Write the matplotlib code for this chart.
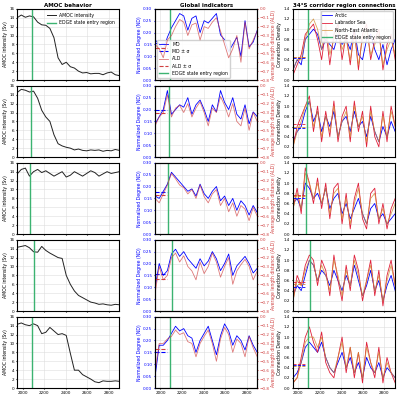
import matplotlib
matplotlib.use('Agg')
import matplotlib.pyplot as plt
import numpy as np

years = list(range(1950, 2901, 38))  # 26 points
green = [2090, 2080, 2070, 2110, 2085]

amoc = [
 [14,14.6,14.1,14.4,14.2,13,12.4,12.3,11.6,9.5,5,3.5,4,3,2.7,2,1.6,1.7,1.4,1.5,1.5,1.2,1.6,1.8,1.2,1.0],
 [14.5,15.2,15,14.6,14.8,13.2,10.5,9,8,5,3,2.5,2.2,2,1.6,1.8,1.5,1.4,1.6,1.5,1.6,1.3,1.5,1.4,1.7,1.5],
 [13.5,14.5,14.8,13,14,14.5,13.8,14.2,13.6,13,13.5,14,12.8,13.2,14,13.5,13,13.6,14.2,13.8,13,13.5,14,13.6,13.8,14],
 [14.3,14.5,14.7,14.2,13.3,13.2,14.5,13.6,13,12.5,12,11.8,8,6,4.5,3.5,3,2.5,2,1.8,1.5,1.6,1.4,1.3,1.5,1.4],
 [14.3,14.6,14.2,14,14.4,14,12.2,12.5,13.6,12.8,12,12.2,11.8,7.8,4,4,3,2.5,2,1.4,1.2,1.6,1.5,1.5,1.6,1.5],
]
md = [
 [0.17,0.15,0.13,0.18,0.22,0.25,0.28,0.27,0.21,0.26,0.27,0.20,0.25,0.24,0.26,0.28,0.19,0.17,0.12,0.15,0.18,0.10,0.25,0.14,0.16,0.21],
 [0.14,0.17,0.20,0.28,0.18,0.20,0.22,0.21,0.25,0.18,0.22,0.24,0.20,0.15,0.22,0.19,0.28,0.23,0.20,0.25,0.18,0.16,0.22,0.14,0.19,0.17],
 [0.16,0.15,0.18,0.21,0.26,0.24,0.22,0.20,0.18,0.19,0.16,0.21,0.17,0.15,0.18,0.20,0.14,0.16,0.12,0.15,0.10,0.14,0.12,0.08,0.12,0.09],
 [0.10,0.20,0.15,0.17,0.24,0.26,0.23,0.25,0.22,0.20,0.18,0.22,0.19,0.21,0.25,0.22,0.17,0.20,0.24,0.15,0.19,0.21,0.23,0.20,0.16,0.18],
 [0.05,0.18,0.18,0.20,0.23,0.26,0.24,0.25,0.22,0.21,0.15,0.20,0.23,0.26,0.20,0.14,0.22,0.27,0.24,0.18,0.22,0.20,0.16,0.22,0.18,0.15],
]
ald = [
 [-0.40,-0.45,-0.55,-0.35,-0.30,-0.20,-0.12,-0.15,-0.30,-0.18,-0.16,-0.35,-0.20,-0.22,-0.15,-0.10,-0.25,-0.40,-0.55,-0.45,-0.30,-0.60,-0.15,-0.45,-0.35,-0.25],
 [-0.45,-0.35,-0.30,-0.10,-0.35,-0.25,-0.22,-0.30,-0.20,-0.35,-0.25,-0.18,-0.30,-0.45,-0.25,-0.30,-0.12,-0.22,-0.35,-0.20,-0.40,-0.45,-0.25,-0.50,-0.30,-0.40],
 [-0.40,-0.45,-0.35,-0.25,-0.12,-0.18,-0.25,-0.28,-0.35,-0.30,-0.40,-0.25,-0.38,-0.45,-0.35,-0.30,-0.48,-0.40,-0.55,-0.45,-0.60,-0.48,-0.52,-0.65,-0.50,-0.60],
 [-0.60,-0.30,-0.45,-0.40,-0.20,-0.15,-0.25,-0.18,-0.30,-0.35,-0.45,-0.25,-0.38,-0.30,-0.15,-0.25,-0.42,-0.30,-0.20,-0.50,-0.35,-0.28,-0.22,-0.30,-0.45,-0.35],
 [-0.60,-0.30,-0.30,-0.25,-0.22,-0.15,-0.20,-0.18,-0.28,-0.30,-0.45,-0.30,-0.22,-0.15,-0.30,-0.50,-0.25,-0.12,-0.20,-0.40,-0.25,-0.30,-0.45,-0.22,-0.35,-0.45],
]
arctic = [
 [0.2,0.4,0.3,0.8,0.9,1.0,0.9,0.6,0.8,0.7,0.6,0.9,0.7,0.8,0.6,1.0,0.5,0.4,0.8,0.9,0.6,0.4,0.7,0.3,0.6,0.8],
 [0.3,0.5,0.6,0.9,1.1,0.7,0.9,0.5,0.8,0.6,0.9,0.4,0.7,0.8,0.5,0.9,0.6,0.7,0.4,0.8,0.5,0.3,0.6,0.4,0.7,0.5],
 [0.6,0.7,0.5,1.0,0.9,0.7,0.8,0.6,0.9,0.5,0.7,0.8,0.4,0.6,0.3,0.5,0.7,0.4,0.2,0.5,0.6,0.3,0.4,0.2,0.3,0.4],
 [0.3,0.5,0.4,0.7,1.0,0.9,0.6,0.8,0.7,0.5,0.8,0.6,0.4,0.7,0.5,0.9,0.6,0.3,0.5,0.8,0.4,0.6,0.2,0.5,0.7,0.4],
 [0.2,0.3,0.5,0.8,0.9,0.8,0.7,0.9,0.6,0.4,0.3,0.5,0.7,0.4,0.6,0.3,0.5,0.2,0.6,0.4,0.3,0.5,0.2,0.4,0.3,0.2],
]
labsea = [
 [0.1,0.3,0.5,0.9,1.0,1.1,0.8,0.4,1.0,0.3,0.9,1.1,0.4,0.9,0.3,1.0,0.2,0.9,1.1,0.4,0.8,1.0,0.2,0.7,0.9,0.4],
 [0.2,0.6,0.8,1.0,1.2,0.5,1.0,0.3,0.9,0.4,1.1,0.3,0.8,1.0,0.3,1.1,0.5,0.9,0.2,1.0,0.4,0.2,0.9,0.3,1.0,0.6],
 [0.5,0.9,0.4,1.3,1.0,0.6,1.1,0.5,1.0,0.3,0.9,1.0,0.2,0.8,0.1,0.7,1.0,0.3,0.1,0.8,0.9,0.2,0.6,0.1,0.5,0.7],
 [0.2,0.7,0.5,0.9,1.1,1.0,0.5,1.0,0.8,0.3,1.1,0.6,0.2,0.9,0.4,1.1,0.8,0.2,0.6,1.0,0.3,0.8,0.1,0.7,1.0,0.5],
 [0.1,0.2,0.6,1.0,1.2,0.9,0.7,1.1,0.5,0.3,0.2,0.6,1.0,0.3,0.8,0.2,0.7,0.1,0.9,0.5,0.2,0.8,0.1,0.6,0.3,0.1],
]
nea = [
 [0.2,0.4,0.4,0.8,1.1,1.2,1.0,0.6,1.1,0.5,0.8,1.0,0.6,0.8,0.4,0.9,0.3,0.8,1.0,0.5,0.7,0.9,0.3,0.6,0.8,0.5],
 [0.2,0.5,0.7,1.0,1.1,0.6,0.9,0.4,0.8,0.5,1.0,0.4,0.7,0.9,0.4,1.0,0.6,0.8,0.3,0.9,0.5,0.3,0.8,0.4,0.9,0.6],
 [0.5,0.8,0.5,1.2,1.0,0.7,1.0,0.6,0.9,0.4,0.8,0.9,0.3,0.7,0.2,0.6,0.9,0.4,0.2,0.7,0.8,0.3,0.5,0.2,0.4,0.6],
 [0.2,0.6,0.5,0.8,1.0,0.9,0.6,0.9,0.7,0.4,1.0,0.7,0.3,0.8,0.5,1.0,0.7,0.3,0.6,0.9,0.4,0.7,0.2,0.6,0.9,0.5],
 [0.1,0.2,0.5,0.9,1.0,1.0,0.8,1.0,0.6,0.4,0.3,0.6,0.9,0.4,0.8,0.3,0.7,0.2,0.8,0.5,0.3,0.7,0.2,0.5,0.3,0.2],
]

plt.rcParams['font.size'] = 3
fig, axes = plt.subplots(5, 3, figsize=(4, 4), dpi=100)
fig.subplots_adjust(left=0.043, right=0.988, top=0.978, bottom=0.03, wspace=0.35, hspace=0.08)
for r in range(5):
    a0, a1, a2 = axes[r]
    a0.plot(years, amoc[r], color='#222', lw=0.7, label='AMOC intensity')
    a0.axvline(green[r], color='#3cb371', lw=1, label='EDGE state entry region')
    a0.set_ylim(0, 16); a0.set_yticks(range(0, 17, 2))
    a0.set_ylabel('AMOC intensity (Sv)', fontsize=3.3, labelpad=1)
    a1.plot(years, md[r], color='blue', lw=0.6, label='MD')
    a1.plot(years[:4], [np.mean(md[r][:4])]*4, color='blue', ls='--', lw=0.8, label='MD ± \u03c3')
    a1.set_ylim(0, 0.30); a1.set_yticks(np.arange(0, 0.31, 0.05))
    a1.tick_params(axis='y', colors='blue')
    a1.set_ylabel('Normalized Degree (ND)', color='blue', fontsize=3.3, labelpad=1)
    t = a1.twinx()
    t.plot(years, ald[r], color='#d04040', lw=0.6, alpha=0.7, label='ALD')
    t.plot(years[:4], [np.mean(ald[r][:4])]*4, color='#d04040', ls='--', lw=0.8, label='ALD ± \u03c3')
    t.set_ylim(-0.8, -0.0)
    t.tick_params(axis='y', colors='#d04040', labelsize=3, pad=1, length=1)
    t.set_ylabel('Average length distance (ALD)', color='#d04040', fontsize=3.3, labelpad=1)
    a1.axvline(green[r], color='#3cb371', lw=1, label='EDGE state entry region')
    a2.plot(years, arctic[r], color='blue', lw=0.6, label='Arctic')
    a2.plot(years, labsea[r], color='#e0203a', lw=0.6, label='Labrador Sea')
    a2.plot(years, nea[r], color='#d08a30', lw=0.6, alpha=0.8, label='North-East Atlantic')
    for s, c in [(arctic, 'blue'), (labsea, '#e0203a'), (nea, '#d08a30')]:
        a2.plot(years[:4], [np.mean(s[r][:4])]*4, color=c, ls='--', lw=0.6)
    a2.axvline(green[r], color='#3cb371', lw=1, label='EDGE state entry region')
    a2.set_ylim(0, 1.4); a2.set_yticks(np.arange(0, 1.41, 0.2))
    a2.set_ylabel('Connection Density', fontsize=3.3, labelpad=1)
    for a in (a0, a1, a2):
        a.set_xlim(1950, 2900)
        a.set_xticks([2000, 2200, 2400, 2600, 2800])
        a.grid(True, color='#ddd', lw=0.4)
        a.tick_params(length=1, pad=1, labelsize=3)
        if r < 4:
            a.set_xticklabels([])
    if r == 0:
        a0.set_title('AMOC behavior', fontsize=4, fontweight='bold', pad=1)
        a1.set_title('Global indicators', fontsize=4, fontweight='bold', pad=1)
        a2.set_title('34\u00b0S corridor region connections', fontsize=4, fontweight='bold', pad=1)
        a0.legend(loc='upper right', fontsize=3.3, frameon=False)
        h1, l1 = a1.get_legend_handles_labels(); h2, l2 = t.get_legend_handles_labels()
        order = [h1[0], h1[1], h2[0], h2[1], h1[2]]
        a1.legend(order, ['MD', 'MD ± \u03c3', 'ALD', 'ALD ± \u03c3', 'EDGE state entry region'], loc='lower left', fontsize=3.3, framealpha=0.9)
        a2.legend(loc='upper right', fontsize=3.3, framealpha=0.9)
fig.savefig('out.png', dpi=100)
